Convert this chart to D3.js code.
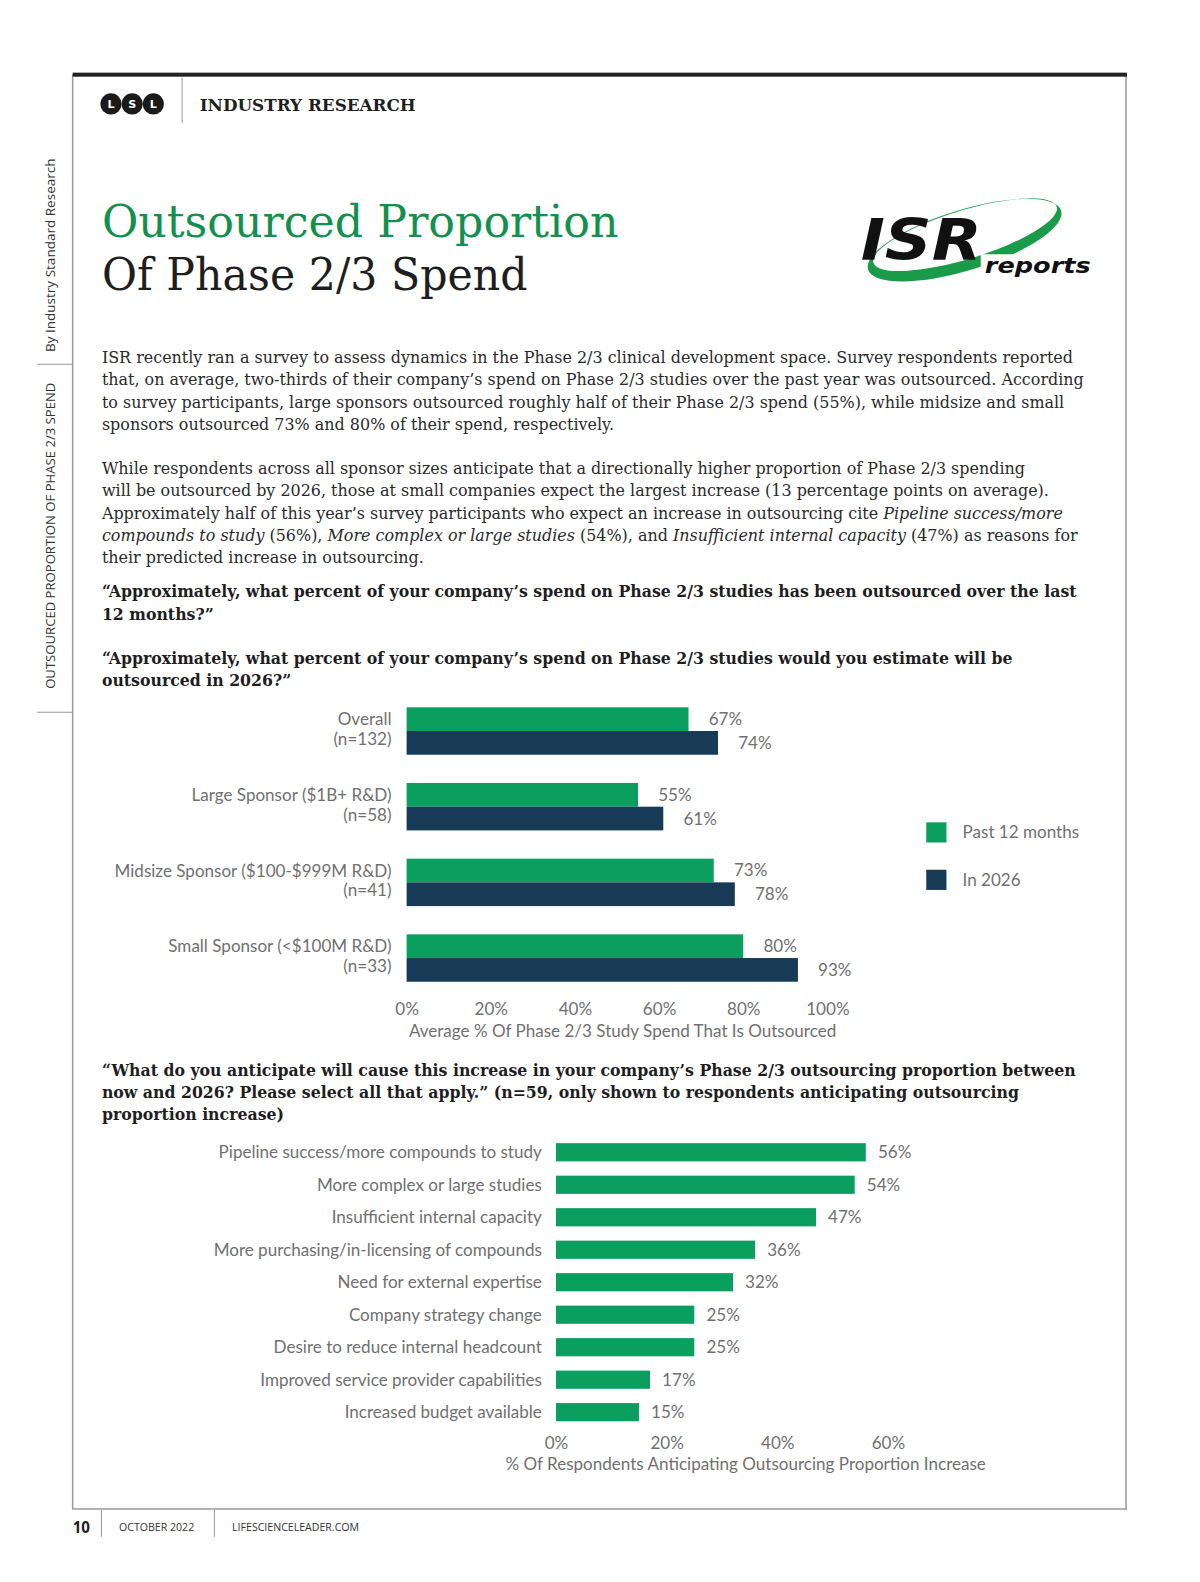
<!DOCTYPE html>
<html lang="en">
<head>
<meta charset="UTF-8" />
<title>Outsourced Proportion Of Phase 2/3 Spend</title>
<script src="https://d3js.org/d3.v7.min.js"></script>
<style>
  html, body { margin: 0; padding: 0; background: #fff; overflow: hidden; width: 100%; height: 100%; }
  #page { width: 100%; height: 100%; }
  svg { display: block; }
</style>
</head>
<body>
<div id="page"></div>
<script>
// ---- data ----
var sponsorLabels = [
  ["Overall", "(n=132)"],
  ["Large Sponsor ($1B+ R&D)", "(n=58)"],
  ["Midsize Sponsor ($100-$999M R&D)", "(n=41)"],
  ["Small Sponsor (<$100M R&D)", "(n=33)"]
];
var sponsorKeys = ["Overall", "Large", "Midsize", "Small"];
var pastValues = [67, 55, 73, 80];
var futureValues = [74, 61, 78, 93];
var seriesNames = ["Past 12 months", "In 2026"];
var ticks1 = [0, 20, 40, 60, 80, 100];

var reasons = [
  "Pipeline success/more compounds to study",
  "More complex or large studies",
  "Insufficient internal capacity",
  "More purchasing/in-licensing of compounds",
  "Need for external expertise",
  "Company strategy change",
  "Desire to reduce internal headcount",
  "Improved service provider capabilities",
  "Increased budget available"
];
var reasonValues = [56, 54, 47, 36, 32, 25, 25, 17, 15];
var ticks2 = [0, 20, 40, 60];

var para1 = [
  "ISR recently ran a survey to assess dynamics in the Phase 2/3 clinical development space. Survey respondents reported",
  "that, on average, two-thirds of their company\u2019s spend on Phase 2/3 studies over the past year was outsourced. According",
  "to survey participants, large sponsors outsourced roughly half of their Phase 2/3 spend (55%), while midsize and small",
  "sponsors outsourced 73% and 80% of their spend, respectively."
];
var para2 = [
  [["While respondents across all sponsor sizes anticipate that a directionally higher proportion of Phase 2/3 spending", 0]],
  [["will be outsourced by 2026, those at small companies expect the largest increase (13 percentage points on average).", 0]],
  [["Approximately half of this year\u2019s survey participants who expect an increase in outsourcing cite ", 0], ["Pipeline success/more", 1]],
  [["compounds to study", 1], [" (56%), ", 0], ["More complex or large studies", 1], [" (54%), and ", 0], ["Insufficient internal capacity", 1], [" (47%) as reasons for", 0]],
  [["their predicted increase in outsourcing.", 0]]
];
var question1 = ["\u201cApproximately, what percent of your company\u2019s spend on Phase 2/3 studies has been outsourced over the last", "12 months?\u201d"];
var question2 = ["\u201cApproximately, what percent of your company\u2019s spend on Phase 2/3 studies would you estimate will be", "outsourced in 2026?\u201d"];
var question3 = [
  "\u201cWhat do you anticipate will cause this increase in your company\u2019s Phase 2/3 outsourcing proportion between",
  "now and 2026? Please select all that apply.\u201d (n=59, only shown to respondents anticipating outsourcing",
  "proportion increase)"
];

// ---- setup ----
var w = 1200, h = 1582;
var zoom = 1.009;   // layout below was measured on a slightly reduced copy of the page
var green = "#0b9f5f", navy = "#173a56", gray = "#707070";
var serif = "'DejaVu Serif', serif";
var sans = "Lato, 'Open Sans', sans-serif";
var chartSize = "16.9px";

var svg = d3.select("#page").append("svg")
  .attr("width", "100%").attr("height", "100%")
  .attr("viewBox", "0 0 " + (w / zoom).toFixed(1) + " " + (h / zoom).toFixed(1))
  .attr("preserveAspectRatio", "none");

// page frame
svg.append("line").attr("x1", 72).attr("x2", 72).attr("y1", 74).attr("y2", 1496)
  .style("stroke", "#9a9a9a").style("stroke-width", 1.5);
svg.append("line").attr("x1", 1116).attr("x2", 1116).attr("y1", 74).attr("y2", 1496)
  .style("stroke", "#9a9a9a").style("stroke-width", 1.5);
svg.append("line").attr("x1", 72).attr("x2", 1117).attr("y1", 1495.5).attr("y2", 1495.5)
  .style("stroke", "#9a9a9a").style("stroke-width", 1.5);
svg.append("rect").attr("x", 72).attr("y", 72).attr("width", 1045).attr("height", 4)
  .style("fill", "#222");

// side bar texts
svg.append("text")
  .attr("transform", "translate(55,253) rotate(-90)")
  .attr("text-anchor", "middle")
  .style("font-family", "'Open Sans', sans-serif").style("font-size", "13.4px").style("fill", "#333")
  .text("By Industry Standard Research");
svg.append("text")
  .attr("transform", "translate(55,531) rotate(-90)")
  .attr("text-anchor", "middle")
  .style("font-family", "'Open Sans', sans-serif").style("font-size", "13px").style("fill", "#333")
  .text("OUTSOURCED PROPORTION OF PHASE 2/3 SPEND");
svg.append("line").attr("x1", 37).attr("x2", 72).attr("y1", 361).attr("y2", 361)
  .style("stroke", "#9a9a9a");
svg.append("line").attr("x1", 37).attr("x2", 72).attr("y1", 706).attr("y2", 706)
  .style("stroke", "#9a9a9a");

// header
var lsl = ["L", "S", "L"];
svg.selectAll(".lsl").data(lsl).enter().append("circle")
  .attr("cx", function (d, i) { return 110 + i * 21; })
  .attr("cy", 103).attr("r", 10.5).style("fill", "#1a1a1a");
svg.selectAll(".lslt").data(lsl).enter().append("text")
  .attr("x", function (d, i) { return 110 + i * 21; })
  .attr("y", 107.5).attr("text-anchor", "middle")
  .style("font-family", "'DejaVu Sans', sans-serif").style("font-weight", "bold")
  .style("font-size", "11px").style("fill", "#fff")
  .text(function (d) { return d; });
svg.append("line").attr("x1", 180.5).attr("x2", 180.5).attr("y1", 77).attr("y2", 122)
  .style("stroke", "#999");
svg.append("text").attr("x", 198).attr("y", 110)
  .style("font-family", serif).style("font-weight", "bold").style("font-size", "17px").style("fill", "#1e1e1e")
  .attr("textLength", 214).attr("lengthAdjust", "spacingAndGlyphs")
  .text("INDUSTRY RESEARCH");

// title
svg.append("text").attr("x", 101).attr("y", 235)
  .style("font-family", serif).style("font-size", "45px").style("fill", "#12904e")
  .attr("textLength", 512).attr("lengthAdjust", "spacingAndGlyphs")
  .text("Outsourced Proportion");
svg.append("text").attr("x", 101).attr("y", 287)
  .style("font-family", serif).style("font-size", "45px").style("fill", "#1e1e1e")
  .attr("textLength", 422).attr("lengthAdjust", "spacingAndGlyphs")
  .text("Of Phase 2/3 Spend");

// ISR logo: tilted ring, thick along the lower left
var logo = svg.append("g").attr("transform", "translate(956,238) rotate(-17)");
logo.append("path")
  .attr("d", "M-100,0 A100,30 0 1,0 100,0 A100,30 0 1,0 -100,0 Z " +
             "M-93,-5 A95,24 0 1,1 97,-5 A95,24 0 1,1 -93,-5 Z")
  .attr("fill-rule", "evenodd")
  .style("fill", "#1a9b4a");
svg.append("text").attr("x", 853).attr("y", 258)
  .style("font-family", "'DejaVu Sans', sans-serif").style("font-weight", "900").style("font-style", "italic")
  .style("font-size", "56px").style("fill", "#111")
  .attr("textLength", 120).attr("lengthAdjust", "spacingAndGlyphs")
  .text("ISR");
svg.append("rect").attr("x", 972).attr("y", 252).attr("width", 112).attr("height", 24).style("fill", "#fff");
svg.append("text").attr("x", 976).attr("y", 271)
  .style("font-family", "'DejaVu Sans', sans-serif").style("font-weight", "bold").style("font-style", "italic")
  .style("font-size", "21px").style("fill", "#111")
  .attr("textLength", 105).attr("lengthAdjust", "spacingAndGlyphs")
  .text("reports");

// body paragraphs
var bodySize = "15.8px";
svg.selectAll(".p1").data(para1).enter().append("text")
  .attr("x", 101).attr("y", function (d, i) { return 360 + i * 22; })
  .style("font-family", serif).style("font-size", bodySize).style("fill", "#2a2a2a")
  .text(function (d) { return d; });

para2.forEach(function (line, i) {
  var t = svg.append("text").attr("x", 101).attr("y", 470 + i * 22)
    .style("font-family", serif).style("font-size", bodySize).style("fill", "#2a2a2a");
  line.forEach(function (seg) {
    t.append("tspan").style("font-style", seg[1] ? "italic" : "normal").text(seg[0]);
  });
});

function question(lines, y0) {
  svg.selectAll(null).data(lines).enter().append("text")
    .attr("x", 101).attr("y", function (d, i) { return y0 + i * 22; })
    .style("font-family", serif).style("font-weight", "bold").style("font-size", "15.6px").style("fill", "#1e1e1e")
    .text(function (d) { return d; });
}
question(question1, 592);
question(question2, 658);
question(question3, 1066);

// ---- chart 1 ----
var x1 = d3.scaleLinear().domain([0, 100]).range([403, 820]);
var y1 = d3.scaleBand().domain(sponsorKeys).range([687, 987]).paddingInner(28 / 75).paddingOuter(14 / 75);
var ySub = d3.scaleBand().domain(seriesNames).range([0, y1.bandwidth()]);
var color = d3.scaleOrdinal().domain(seriesNames).range([green, navy]);

var rows = sponsorKeys.map(function (k, i) {
  return { key: k, label: sponsorLabels[i], values: [pastValues[i], futureValues[i]] };
});

var groups = svg.selectAll(".grp").data(rows).enter().append("g")
  .attr("transform", function (d) { return "translate(0," + y1(d.key) + ")"; });

groups.selectAll("rect").data(function (d) { return d.values; }).enter().append("rect")
  .attr("x", x1(0))
  .attr("y", function (d, i) { return ySub(seriesNames[i]); })
  .attr("width", function (d) { return x1(d) - x1(0); })
  .attr("height", ySub.bandwidth())
  .style("fill", function (d, i) { return color(seriesNames[i]); });

groups.selectAll(".val").data(function (d) { return d.values; }).enter().append("text")
  .attr("x", function (d) { return x1(d) + 20; })
  .attr("y", function (d, i) { return ySub(seriesNames[i]) + ySub.bandwidth() / 2; })
  .attr("dy", "0.35em")
  .style("font-family", sans).style("font-size", chartSize).style("fill", gray)
  .text(function (d) { return d + "%"; });

// two-line category label, centred on the pair of bars
groups.selectAll(".lab").data(function (d) { return d.label; }).enter().append("text")
  .attr("x", 388)
  .attr("y", function (d, i) { return y1.bandwidth() / 2 + (i === 0 ? -11.5 : 8); })
  .attr("dy", "0.35em").attr("text-anchor", "end")
  .style("font-family", sans).style("font-size", chartSize).style("fill", gray)
  .text(function (d) { return d; });

var ax1 = svg.append("g").attr("transform", "translate(0,994)")
  .call(d3.axisBottom(x1).tickValues(ticks1).tickSize(0).tickPadding(0)
    .tickFormat(function (d) { return d + "%"; }));
ax1.select(".domain").remove();
ax1.selectAll("text").style("font-family", sans).style("font-size", chartSize).style("fill", gray);

svg.append("text").attr("x", 617).attr("y", 1028).attr("text-anchor", "middle")
  .style("font-family", sans).style("font-size", chartSize).style("fill", gray)
  .text("Average % Of Phase 2/3 Study Spend That Is Outsourced");

// legend
var legend = svg.append("g").attr("transform", "translate(918,815)");
legend.selectAll("rect").data(seriesNames).enter().append("rect")
  .attr("x", 0).attr("y", function (d, i) { return i * 47; })
  .attr("width", 20).attr("height", 20)
  .style("fill", function (d) { return color(d); });
legend.selectAll("text").data(seriesNames).enter().append("text")
  .attr("x", 36).attr("y", function (d, i) { return i * 47 + 10; })
  .attr("dy", "0.35em")
  .style("font-family", sans).style("font-size", chartSize).style("fill", gray)
  .text(function (d) { return d; });

// ---- chart 2 ----
var x2 = d3.scaleLinear().domain([0, 60]).range([551, 880]);
var y2 = d3.scaleBand().domain(reasons).range([1125.9, 1415.7]).paddingInner(0.44).paddingOuter(0.22);

var reasonRows = reasons.map(function (r, i) { return { reason: r, value: reasonValues[i] }; });

svg.selectAll(".rbar").data(reasonRows).enter().append("rect")
  .attr("x", x2(0))
  .attr("y", function (d) { return y2(d.reason); })
  .attr("width", function (d) { return x2(d.value) - x2(0); })
  .attr("height", y2.bandwidth())
  .style("fill", green);

svg.selectAll(".rval").data(reasonRows).enter().append("text")
  .attr("x", function (d) { return x2(d.value) + 12; })
  .attr("y", function (d) { return y2(d.reason) + y2.bandwidth() / 2; })
  .attr("dy", "0.35em")
  .style("font-family", sans).style("font-size", chartSize).style("fill", gray)
  .text(function (d) { return d.value + "%"; });

svg.selectAll(".rlab").data(reasonRows).enter().append("text")
  .attr("x", 537).attr("text-anchor", "end")
  .attr("y", function (d) { return y2(d.reason) + y2.bandwidth() / 2; })
  .attr("dy", "0.35em")
  .style("font-family", sans).style("font-size", chartSize).style("fill", gray)
  .text(function (d) { return d.reason; });

var ax2 = svg.append("g").attr("transform", "translate(0,1424)")
  .call(d3.axisBottom(x2).tickValues(ticks2).tickSize(0).tickPadding(0)
    .tickFormat(function (d) { return d + "%"; }));
ax2.select(".domain").remove();
ax2.selectAll("text").style("font-family", sans).style("font-size", chartSize).style("fill", gray);

svg.append("text").attr("x", 739).attr("y", 1457).attr("text-anchor", "middle")
  .style("font-family", sans).style("font-size", chartSize).style("fill", gray)
  .text("% Of Respondents Anticipating Outsourcing Proportion Increase");

// footer
svg.append("text").attr("x", 72).attr("y", 1519)
  .style("font-family", "'Open Sans', sans-serif").style("font-weight", "bold").style("font-size", "15px").style("fill", "#1e1e1e")
  .text("10");
svg.append("line").attr("x1", 100.5).attr("x2", 100.5).attr("y1", 1496).attr("y2", 1523).style("stroke", "#999");
svg.append("text").attr("x", 118).attr("y", 1517)
  .style("font-family", "'Open Sans', sans-serif").style("font-size", "10.5px").style("fill", "#333")
  .text("OCTOBER 2022");
svg.append("line").attr("x1", 212.5).attr("x2", 212.5).attr("y1", 1496).attr("y2", 1523).style("stroke", "#999");
svg.append("text").attr("x", 230).attr("y", 1517)
  .style("font-family", "'Open Sans', sans-serif").style("font-size", "10.5px").style("fill", "#333")
  .text("LIFESCIENCELEADER.COM");
</script>
</body>
</html>
